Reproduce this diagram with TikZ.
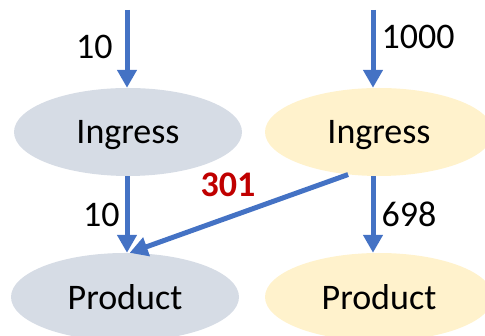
\documentclass[tikz,border=0pt]{standalone}
\usepackage{fontspec}
\setmainfont{Carlito}
\usetikzlibrary{shapes.geometric,arrows.meta}

\definecolor{flowblue}{HTML}{4472C4}
\definecolor{greyfill}{HTML}{D6DCE5}
\definecolor{creamfill}{HTML}{FFF2CC}
\definecolor{hotred}{HTML}{C00000}

\begin{document}
\begin{tikzpicture}[x=1pt,y=1pt,
    blob/.style={ellipse,minimum width=228pt,minimum height=88pt,inner sep=0pt,
                 text depth=0pt,font=\fontsize{36}{40}\selectfont},
    flow/.style={draw=flowblue,line width=5pt,-{Triangle[width=19pt,length=18pt]}},
    num/.style={inner sep=0pt,font=\fontsize{36}{40}\selectfont}]

      \useasboundingbox (0,0) rectangle (485,336);

      \begin{scope}[every node/.style={blob}]
        \node[fill=greyfill]  (ingL)  at (128,204) {Ingress};
        \node[fill=creamfill] (ingR)  at (379,204) {Ingress};
        \node[fill=greyfill]  (prodL) at (125,39)  {Product};
        \node[fill=creamfill] (prodR) at (379,39)  {Product};
      \end{scope}

      \coordinate (inL) at (127,326);
      \coordinate (inR) at (373,326);

      \begin{scope}[every node/.style={num}]

        \begin{scope}[every edge/.style={flow}]
          \path (inL)      edge node[pos=0.47,left=12pt] {10} (inL |- ingL.north);
          \path (inR)      edge node[pos=0.35,right=6pt] {1000} (inR |- ingR.north);
          \path (inL |- ingL.south) edge node[pos=0.5,left=5pt] {10} (inL |- prodL.north);
          \path (inR |- ingR.south) edge node[pos=0.5,right=6pt] {698} (inR |- prodR.north);
          \path (ingR.-126) edge node[pos=0.55,above=18pt,text=hotred,font=\fontsize{36}{40}\selectfont\bfseries] {301} (prodL.84);
        \end{scope}
      \end{scope}

    \end{tikzpicture}
\end{document}
